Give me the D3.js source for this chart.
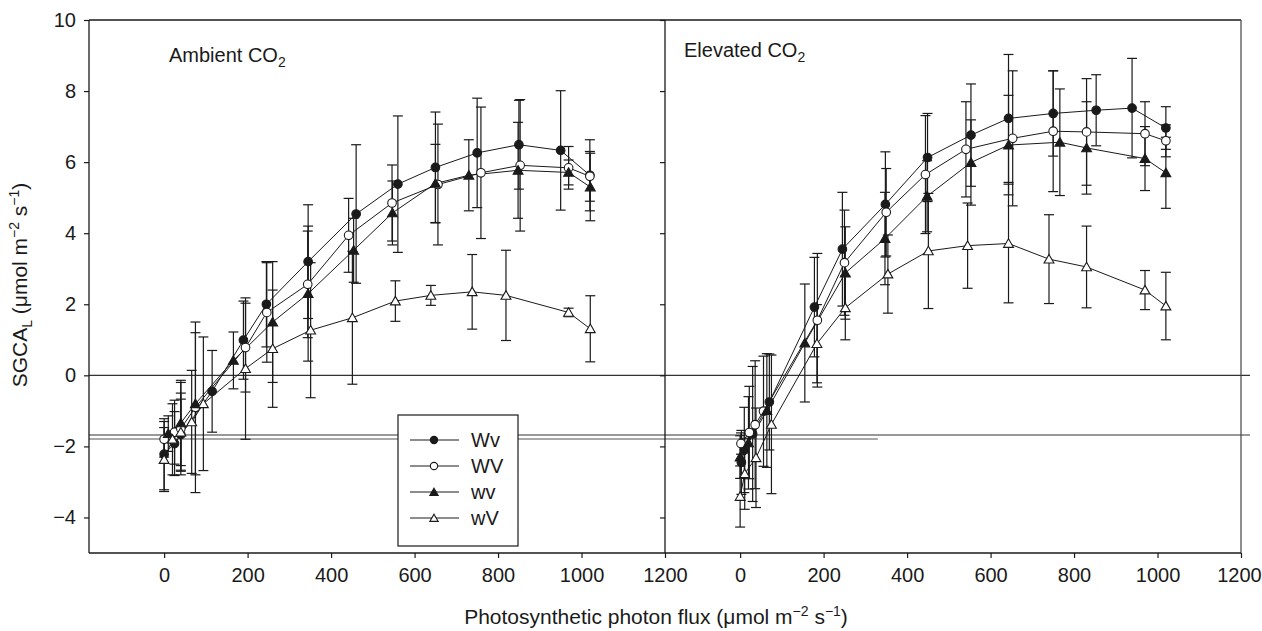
<!DOCTYPE html>
<html>
<head>
<meta charset="utf-8">
<script src="https://cdn.jsdelivr.net/npm/d3@7"></script>
<style>
  body { margin: 0; background: #fff; }
  text { font-family: "Liberation Sans", Arial, Helvetica, sans-serif; fill: #1a1a1a; }
</style>
</head>
<body>
<svg id="chart" width="1262" height="631"></svg>
<script>
// ---- data ----
const seriesNames = ["Wv", "WV", "wv", "wV"];
const yTicks = [-4, -2, 0, 2, 4, 6, 8, 10];
const xTicks = [0, 200, 400, 600, 800, 1000, 1200];

// Ambient CO2
const ambWvX = [0, 25, 40, 115, 190, 245, 345, 460, 560, 650, 750, 850, 950, 1020];
const ambWvY = [-2.22, -1.92, -1.67, -0.45, 0.99, 2.0, 3.2, 4.54, 5.38, 5.85, 6.26, 6.49, 6.33, 5.63];
const ambWvE = [1.0, 0.9, 1.0, 1.15, 1.1, 1.2, 1.6, 1.95, 1.92, 1.56, 1.54, 1.25, 1.68, 1.0];

const ambWVX = [0, 25, 40, 75, 195, 246, 344, 442, 546, 656, 759, 853, 969, 1020];
const ambWVY = [-1.8, -1.6, -1.5, -0.9, 0.78, 1.77, 2.56, 3.94, 4.85, 5.37, 5.7, 5.91, 5.84, 5.6];
const ambWVE = [0.5, 0.9, 1.3, 2.4, 1.25, 1.4, 1.5, 1.04, 1.07, 1.7, 1.85, 1.85, 0.6, 0.7];

const ambwvX = [10, 40, 75, 166, 260, 345, 454, 547, 650, 730, 848, 969, 1021];
const ambwvY = [-1.64, -1.34, -0.8, 0.42, 1.5, 2.3, 3.52, 4.57, 5.4, 5.63, 5.77, 5.71, 5.3];
const ambwvE = [0.5, 1.2, 2.0, 0.8, 1.7, 1.9, 0.9, 0.9, 1.1, 1.0, 1.35, 0.35, 0.95];

const ambwVX = [0, 20, 40, 66, 94, 195, 260, 351, 451, 554, 639, 738, 819, 969, 1021];
const ambwVY = [-2.37, -1.8, -1.6, -1.31, -0.8, 0.19, 0.75, 1.27, 1.62, 2.09, 2.25, 2.35, 2.25, 1.77, 1.31];
const ambwVE = [0.9, 1.0, 1.1, 1.45, 1.88, 1.99, 1.65, 1.9, 1.87, 0.57, 0.28, 1.05, 1.27, 0.12, 0.93];

// Elevated CO2
const eleWvX = [3, 10, 30, 70, 178, 245, 348, 449, 553, 643, 750, 853, 939, 1020];
const eleWvY = [-2.45, -2.1, -1.65, -0.75, 1.92, 3.55, 4.81, 6.13, 6.76, 7.23, 7.37, 7.46, 7.52, 6.96];
const eleWvE = [0.9, 1.2, 1.9, 1.35, 1.4, 1.6, 1.48, 1.24, 1.44, 1.8, 1.2, 1.0, 1.4, 0.6];

const eleWVX = [2, 22, 36, 56, 185, 250, 350, 444, 541, 653, 750, 830, 970, 1020];
const eleWVY = [-1.92, -1.61, -1.39, -1.01, 1.55, 3.17, 4.59, 5.65, 6.36, 6.67, 6.87, 6.85, 6.8, 6.6];
const eleWVE = [0.3, 1.3, 1.8, 1.55, 1.88, 1.48, 1.23, 1.66, 1.34, 1.9, 1.7, 1.5, 0.9, 0.45];

const elewvX = [0, 20, 64, 155, 252, 347, 448, 553, 643, 766, 830, 970, 1020];
const elewvY = [-2.3, -1.9, -0.99, 0.91, 2.88, 3.85, 5.04, 5.99, 6.48, 6.56, 6.4, 6.1, 5.7];
const elewvE = [0.6, 1.3, 1.6, 1.66, 1.3, 1.3, 1.0, 1.2, 1.4, 1.5, 1.3, 0.9, 1.0];

const elewVX = [0, 11, 38, 75, 184, 252, 354, 451, 545, 643, 740, 830, 970, 1020];
const elewVY = [-3.41, -2.77, -2.32, -1.38, 0.89, 1.9, 2.85, 3.5, 3.65, 3.71, 3.27, 3.05, 2.4, 1.95];
const elewVE = [0.86, 1.0, 1.4, 1.95, 1.1, 0.9, 1.1, 1.62, 1.2, 1.67, 1.25, 1.15, 0.55, 0.95];

// horizontal reference lines
const refLineUpper = -1.68;
const refLineLower = -1.79;

// ---- layout ----
const svg = d3.select("#chart");
const plotTop = 20, plotBottom = 553;
const leftX0 = 89, divX = 665, rightX1 = 1241;

const y = d3.scaleLinear().domain([-5, 10]).range([plotBottom, plotTop]);
const xAmb = d3.scaleLinear().domain([-180, 1200]).range([leftX0, divX]);
const xEle = d3.scaleLinear().domain([-180, 1200]).range([divX, rightX1]);

function pack(xs, ys, es) {
  return xs.map((v, i) => ({ x: v, y: ys[i], e: es[i] }));
}

const panels = [
  { x: xAmb, label: "Ambient CO", lx: 169, ly: 62, series: [
      pack(ambWvX, ambWvY, ambWvE), pack(ambWVX, ambWVY, ambWVE),
      pack(ambwvX, ambwvY, ambwvE), pack(ambwVX, ambwVY, ambwVE)] },
  { x: xEle, label: "Elevated CO", lx: 684, ly: 57, series: [
      pack(eleWvX, eleWvY, eleWvE), pack(eleWVX, eleWVY, eleWVE),
      pack(elewvX, elewvY, elewvE), pack(elewVX, elewVY, elewVE)] }
];

const ink = "#1a1a1a";

// marker drawing: filled circle, open circle, filled triangle, open triangle
function drawMarker(g, i, cx, cy, scale) {
  const s = scale || 1;
  if (i < 2) {
    g.append("circle").attr("cx", cx).attr("cy", cy).attr("r", 4.3 * s)
      .attr("fill", i === 0 ? ink : "#fff").attr("stroke", ink).attr("stroke-width", 1.1);
  } else {
    g.append("path").attr("d", d3.symbol(d3.symbolTriangle, 42 * s * s)())
      .attr("transform", `translate(${cx},${cy + 1})`)
      .attr("fill", i === 2 ? ink : "#fff").attr("stroke", ink).attr("stroke-width", 1.1);
  }
}

// reference lines
svg.append("line").attr("x1", leftX0).attr("x2", 1250)
  .attr("y1", y(0)).attr("y2", y(0)).attr("stroke", "#333").attr("stroke-width", 1.1);
svg.append("line").attr("x1", leftX0).attr("x2", 1250)
  .attr("y1", y(refLineUpper)).attr("y2", y(refLineUpper)).attr("stroke", "#333").attr("stroke-width", 1.1);
svg.append("line").attr("x1", leftX0).attr("x2", xEle(330))
  .attr("y1", y(refLineLower)).attr("y2", y(refLineLower)).attr("stroke", "#555").attr("stroke-width", 1.1);

// data
panels.forEach(p => {
  const g = svg.append("g");
  const line = d3.line().x(d => p.x(d.x)).y(d => y(d.y));
  p.series.forEach(s => {
    g.append("path").datum(s).attr("d", line)
      .attr("fill", "none").attr("stroke", ink).attr("stroke-width", 1);
  });
  p.series.forEach(s => {
    s.forEach(d => {
      const cx = p.x(d.x);
      g.append("line").attr("x1", cx).attr("x2", cx)
        .attr("y1", y(d.y - d.e)).attr("y2", y(d.y + d.e))
        .attr("stroke", ink).attr("stroke-width", 1.2);
      [d.y - d.e, d.y + d.e].forEach(v => {
        g.append("line").attr("x1", cx - 5).attr("x2", cx + 5)
          .attr("y1", y(v)).attr("y2", y(v))
          .attr("stroke", ink).attr("stroke-width", 1.2);
      });
    });
  });
  p.series.forEach((s, i) => {
    s.forEach(d => drawMarker(g, i, p.x(d.x), y(d.y)));
  });

  // panel label with subscript
  const t = svg.append("text").attr("x", p.lx).attr("y", p.ly).attr("font-size", 20);
  t.append("tspan").text(p.label);
  t.append("tspan").attr("font-size", 14).attr("dy", 5).text("2");
});

// frame
svg.append("line").attr("x1", leftX0).attr("x2", rightX1).attr("y1", plotTop).attr("y2", plotTop)
  .attr("stroke", ink).attr("stroke-width", 1.3);
svg.append("line").attr("x1", rightX1).attr("x2", rightX1).attr("y1", plotTop).attr("y2", plotBottom)
  .attr("stroke", "#444").attr("stroke-width", 1.2);

// axes
const yAxisL = d3.axisLeft(y).tickValues(yTicks).tickSize(5).tickPadding(8)
  .tickFormat(d => d < 0 ? "\u2212" + Math.abs(d) : d);
const gyl = svg.append("g").attr("transform", `translate(${leftX0},0)`).call(yAxisL);
const yAxisR = d3.axisLeft(y).tickValues(yTicks).tickSize(5).tickFormat("");
const gyr = svg.append("g").attr("transform", `translate(${divX},0)`).call(yAxisR);

const gxl = svg.append("g").attr("transform", `translate(0,${plotBottom})`)
  .call(d3.axisBottom(xAmb).tickValues(xTicks).tickSize(5).tickPadding(10).tickFormat(d3.format("d")));
const gxr = svg.append("g").attr("transform", `translate(0,${plotBottom})`)
  .call(d3.axisBottom(xEle).tickValues(xTicks).tickSize(5).tickPadding(10).tickFormat(d3.format("d")));

[gyl, gyr, gxl, gxr].forEach(g => {
  g.select(".domain").attr("stroke", ink).attr("stroke-width", 1.3);
  g.selectAll(".tick line").attr("stroke", ink).attr("stroke-width", 1.2);
  g.selectAll("text").attr("font-size", 20).attr("fill", ink)
    .attr("font-family", "Liberation Sans, Arial, sans-serif");
});
// keep the last label of the right axis inside the picture
gxr.selectAll(".tick text").filter(d => d === 1200).attr("dx", -2);
// the axis domain paths include outer ticks; redraw cleanly
gyl.select(".domain").attr("d", `M0,${plotBottom}V${plotTop}`);
gyr.select(".domain").attr("d", `M0,${plotBottom}V${plotTop}`);
gxl.select(".domain").attr("d", `M${leftX0},0H${divX}`);
gxr.select(".domain").attr("d", `M${divX},0H${rightX1}`);

// axis titles
const xt = svg.append("text").attr("x", 656).attr("y", 624).attr("text-anchor", "middle").attr("font-size", 21);
xt.append("tspan").text("Photosynthetic photon flux (\u03bcmol m");
xt.append("tspan").attr("font-size", 14).attr("dy", -8).text("\u22122");
xt.append("tspan").attr("dy", 8).text(" s");
xt.append("tspan").attr("font-size", 14).attr("dy", -8).text("\u22121");
xt.append("tspan").attr("dy", 8).text(")");

const yt = svg.append("text").attr("transform", "translate(27,285) rotate(-90)")
  .attr("text-anchor", "middle").attr("font-size", 21);
yt.append("tspan").text("SGCA");
yt.append("tspan").attr("font-size", 14).attr("dy", 5).text("L");
yt.append("tspan").attr("dy", -5).text(" (\u03bcmol m");
yt.append("tspan").attr("font-size", 14).attr("dy", -8).text("\u22122");
yt.append("tspan").attr("dy", 8).text(" s");
yt.append("tspan").attr("font-size", 14).attr("dy", -8).text("\u22121");
yt.append("tspan").attr("dy", 8).text(")");

// legend
const lg = svg.append("g");
lg.append("rect").attr("x", 398).attr("y", 415).attr("width", 120).attr("height", 131)
  .attr("fill", "#fff").attr("stroke", ink).attr("stroke-width", 1.2);
seriesNames.forEach((n, i) => {
  const ly = 440 + i * 26;
  lg.append("line").attr("x1", 410).attr("x2", 459).attr("y1", ly).attr("y2", ly)
    .attr("stroke", ink).attr("stroke-width", 1);
  drawMarker(lg, i, 434, ly, 0.85);
  lg.append("text").attr("x", 471).attr("y", ly + 7).attr("font-size", 20).text(n);
});
</script>
</body>
</html>
